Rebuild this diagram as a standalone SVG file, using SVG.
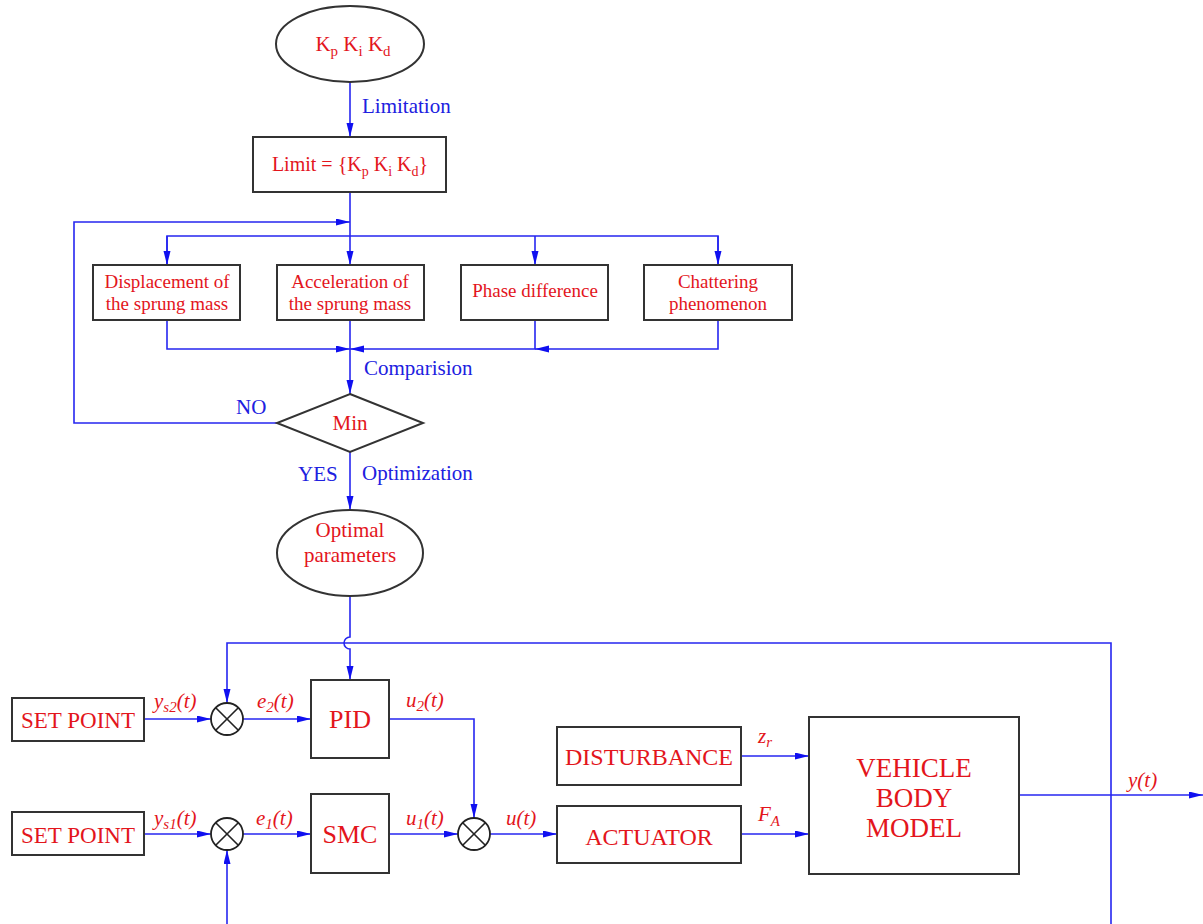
<svg xmlns="http://www.w3.org/2000/svg" width="1203" height="924" viewBox="0 0 1203 924">
<style>
.box{fill:#fff;stroke:#333;stroke-width:2}
.ln{fill:none;stroke:#2626f0;stroke-width:1.6}
.rt{fill:#e3151c;font-family:"Liberation Serif",serif;text-anchor:middle}
.bt{fill:#2020e0;font-family:"Liberation Serif",serif;font-size:21px}
.sig{fill:#e3151c;font-family:"Liberation Serif",serif;font-style:italic;font-size:21px}
.sj{fill:#fff;stroke:#222;stroke-width:1.8}
.x{stroke:#222;stroke-width:1.6}
</style>
<defs>
<marker id="ah" markerUnits="userSpaceOnUse" markerWidth="15" markerHeight="8" refX="14" refY="3.5" orient="auto">
<path d="M0,0 L14,3.5 L0,7 z" fill="#1010f0"/>
</marker>
</defs>
<rect width="1203" height="924" fill="#fff"/>

<g id="connectors">
<path class="ln" d="M350,82 V137" marker-end="url(#ah)"/>
<path class="ln" d="M350,192 V265" marker-end="url(#ah)"/>
<path class="ln" d="M167,265 V236 H718 V265" />
<path class="ln" d="M167,236 V265" marker-end="url(#ah)"/>
<path class="ln" d="M535,236 V265" marker-end="url(#ah)"/>
<path class="ln" d="M718,236 V265" marker-end="url(#ah)"/>
<path class="ln" d="M167,320 V349 H350" marker-end="url(#ah)"/>
<path class="ln" d="M718,320 V349 H535" marker-end="url(#ah)"/>
<path class="ln" d="M535,320 V349 H350" marker-end="url(#ah)"/>
<path class="ln" d="M350,320 V394" marker-end="url(#ah)"/>
<path class="ln" d="M278,423 H74 V222 H350" marker-end="url(#ah)"/>
<path class="ln" d="M350,452 V510" marker-end="url(#ah)"/>
<path class="ln" d="M350,597 V637 A6,6 0 0,0 350,649 V680" marker-end="url(#ah)"/>
<path class="ln" d="M1111,924 V643 H227 V703" marker-end="url(#ah)"/>
<path class="ln" d="M227,924 V850" marker-end="url(#ah)"/>
<path class="ln" d="M144,719 H211" marker-end="url(#ah)"/>
<path class="ln" d="M243,719 H311" marker-end="url(#ah)"/>
<path class="ln" d="M389,719 H474 V818" marker-end="url(#ah)"/>
<path class="ln" d="M144,834 H211" marker-end="url(#ah)"/>
<path class="ln" d="M243,834 H311" marker-end="url(#ah)"/>
<path class="ln" d="M389,834 H458" marker-end="url(#ah)"/>
<path class="ln" d="M490,834 H557" marker-end="url(#ah)"/>
<path class="ln" d="M741,756 H809" marker-end="url(#ah)"/>
<path class="ln" d="M741,834 H809" marker-end="url(#ah)"/>
<path class="ln" d="M1019,795 H1203" marker-end="url(#ah)"/>
</g>

<g id="labels">
<text class="bt" x="362" y="113">Limitation</text>
<text class="bt" x="364" y="375">Comparision</text>
<text class="bt" x="236" y="414">NO</text>
<text class="bt" x="298" y="481">YES</text>
<text class="bt" x="362" y="480">Optimization</text>
<text class="sig" x="154" y="708">y<tspan font-size="15" dy="4">s2</tspan><tspan dy="-4">(t)</tspan></text>
<text class="sig" x="257" y="708">e<tspan font-size="15" dy="4">2</tspan><tspan dy="-4">(t)</tspan></text>
<text class="sig" x="406" y="707">u<tspan font-size="15" dy="4">2</tspan><tspan dy="-4">(t)</tspan></text>
<text class="sig" x="154" y="825">y<tspan font-size="15" dy="4">s1</tspan><tspan dy="-4">(t)</tspan></text>
<text class="sig" x="256" y="825">e<tspan font-size="15" dy="4">1</tspan><tspan dy="-4">(t)</tspan></text>
<text class="sig" x="406" y="825">u<tspan font-size="15" dy="4">1</tspan><tspan dy="-4">(t)</tspan></text>
<text class="sig" x="506" y="825">u(t)</text>
<text class="sig" x="758" y="743">z<tspan font-size="15" dy="4">r</tspan></text>
<text class="sig" x="758" y="821">F<tspan font-size="15" dy="5">A</tspan></text>
<text class="sig" x="1128" y="787">y(t)</text>
</g>

<g id="n-kpkikd">
<ellipse class="box" cx="350" cy="44" rx="74" ry="38"/>
<text class="rt" x="353" y="51" font-size="21">K<tspan font-size="15" dy="5">p</tspan><tspan dy="-5"> K</tspan><tspan font-size="15" dy="5">i</tspan><tspan dy="-5"> K</tspan><tspan font-size="15" dy="5">d</tspan></text>
</g>
<g id="n-limit">
<rect class="box" x="253" y="137" width="193" height="55"/>
<text class="rt" x="350" y="171" font-size="20">Limit = {K<tspan font-size="14" dy="5">p</tspan><tspan dy="-5"> K</tspan><tspan font-size="14" dy="5">i</tspan><tspan dy="-5"> K</tspan><tspan font-size="14" dy="5">d</tspan><tspan dy="-5">}</tspan></text>
</g>
<g id="n-disp">
<rect class="box" x="93" y="265" width="147" height="55"/>
<text class="rt" x="167" y="288" font-size="19">Displacement of</text>
<text class="rt" x="167" y="310" font-size="19">the sprung mass</text>
</g>
<g id="n-accel">
<rect class="box" x="277" y="265" width="147" height="55"/>
<text class="rt" x="350" y="288" font-size="19">Acceleration of</text>
<text class="rt" x="350" y="310" font-size="19">the sprung mass</text>
</g>
<g id="n-phase">
<rect class="box" x="461" y="265" width="147" height="55"/>
<text class="rt" x="535" y="297" font-size="19">Phase difference</text>
</g>
<g id="n-chatter">
<rect class="box" x="644" y="265" width="148" height="55"/>
<text class="rt" x="718" y="288" font-size="19">Chattering</text>
<text class="rt" x="718" y="310" font-size="19">phenomenon</text>
</g>
<g id="n-min">
<path class="box" d="M350,394 L423,423 L350,452 L277,423 z"/>
<text class="rt" x="350" y="430" font-size="21">Min</text>
</g>
<g id="n-optimal">
<ellipse class="box" cx="350" cy="553" rx="73" ry="43"/>
<text class="rt" x="350" y="537" font-size="21">Optimal</text>
<text class="rt" x="350" y="562" font-size="21">parameters</text>
</g>
<g id="n-setpoint2">
<rect class="box" x="12" y="698" width="132" height="43"/>
<text class="rt" x="78" y="728" font-size="23">SET POINT</text>
</g>
<g id="n-sum1">
<circle class="sj" cx="227" cy="719" r="16"/>
<path class="x" d="M215.7,707.7 L238.3,730.3 M238.3,707.7 L215.7,730.3"/>
</g>
<g id="n-pid">
<rect class="box" x="311" y="680" width="78" height="78"/>
<text class="rt" x="350" y="728" font-size="26">PID</text>
</g>
<g id="n-setpoint1">
<rect class="box" x="12" y="812" width="132" height="43"/>
<text class="rt" x="78" y="843" font-size="23">SET POINT</text>
</g>
<g id="n-sum3">
<circle class="sj" cx="227" cy="834" r="16"/>
<path class="x" d="M215.7,822.7 L238.3,845.3 M238.3,822.7 L215.7,845.3"/>
</g>
<g id="n-smc">
<rect class="box" x="311" y="794" width="78" height="79"/>
<text class="rt" x="350" y="843" font-size="26">SMC</text>
</g>
<g id="n-sum2">
<circle class="sj" cx="474" cy="834" r="16"/>
<path class="x" d="M462.7,822.7 L485.3,845.3 M485.3,822.7 L462.7,845.3"/>
</g>
<g id="n-disturbance">
<rect class="box" x="557" y="727" width="184" height="58"/>
<text class="rt" x="649" y="765" font-size="24">DISTURBANCE</text>
</g>
<g id="n-actuator">
<rect class="box" x="557" y="806" width="184" height="57"/>
<text class="rt" x="649" y="845" font-size="24">ACTUATOR</text>
</g>
<g id="n-vehicle">
<rect class="box" x="809" y="717" width="210" height="157"/>
<text class="rt" x="914" y="777" font-size="27">VEHICLE</text>
<text class="rt" x="914" y="807" font-size="27">BODY</text>
<text class="rt" x="914" y="837" font-size="27">MODEL</text>
</g>
</svg>
